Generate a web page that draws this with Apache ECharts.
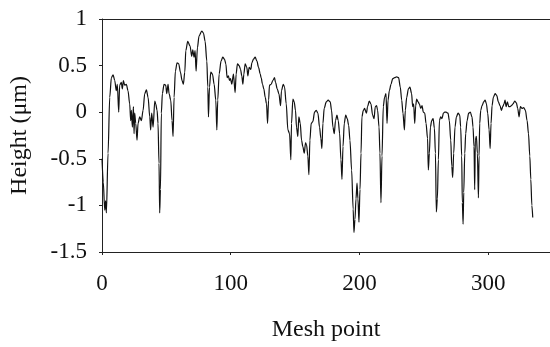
<!DOCTYPE html>
<html>
<head>
<meta charset="utf-8">
<script src="https://cdn.jsdelivr.net/npm/echarts@6/dist/echarts.min.js"></script>
<style>
  html, body { margin: 0; padding: 0; background: #fff; }
  #chart { width: 550px; height: 347px; }
</style>
</head>
<body>
<div id="chart"></div>
<script>
// Surface profile sampled along the mesh
const meshPoint = [
  0, 1.0, 2.1, 2.8, 3.4, 4.7, 6.0, 7.3, 8.6, 9.9, 11.1, 11.9, 13.0, 13.7, 15.0, 15.8, 16.6, 17.6, 18.9, 20.2,
  21.5, 22.3, 22.8, 23.6, 24.4, 24.9, 25.4, 26.2, 27.2, 28.0, 29.3, 30.6, 31.9, 33.2, 34.5, 35.8, 37.1, 37.8, 38.6, 39.7,
  41.0, 41.7, 42.8, 43.5, 44.3, 44.8, 45.4, 46.1, 46.9, 48.2, 49.5, 50.3, 51.3, 52.1, 53.4, 54.4, 55.2, 56.0, 57.0, 58.3,
  59.6, 60.9, 62.2, 63.2, 64.3, 65.1, 66.6, 68.4, 69.7, 70.5, 71.5, 72.3, 73.1, 74.1, 75.4, 77.5, 78.8, 80.1, 81.4, 82.2,
  82.7, 83.5, 84.5, 85.8, 87.1, 88.4, 89.2, 89.9, 91.0, 92.5, 93.8, 95.1, 96.2, 97.2, 98.2, 99.0, 99.8, 100.8, 102.1, 103.4,
  104.2, 105.2, 106.5, 107.6, 108.6, 109.4, 110.2, 111.2, 112.5, 113.3, 114.3, 115.6, 116.4, 117.7, 119.0, 120.3, 121.6, 122.9, 123.6, 124.7,
  125.7, 126.8, 127.8, 128.6, 129.4, 130.1, 131.4, 132.7, 134.0, 134.8, 136.1, 137.4, 138.7, 139.4, 140.8, 141.8, 143.1, 144.4, 145.7, 146.7,
  147.2, 148.3, 149.3, 150.3, 151.1, 152.1, 152.9, 154.0, 155.0, 156.0, 157.1, 158.1, 158.9, 159.9, 160.7, 161.5, 162.5, 163.8, 165.1, 166.4,
  167.7, 169.0, 170.0, 170.8, 171.6, 172.6, 174.2, 175.7, 177.3, 178.3, 179.4, 180.4, 181.4, 182.5, 183.5, 184.6, 185.6, 186.4, 187.2, 188.2,
  189.3, 190.5, 191.6, 192.6, 193.9, 195.1, 195.7, 196.5, 197.3, 198.1, 198.8, 199.6, 200.4, 201.2, 201.9, 203.0, 204.0, 205.4, 206.3, 207.6,
  208.9, 210.2, 211.3, 212.3, 213.3, 214.1, 215.2, 215.9, 216.7, 217.5, 218.5, 219.5, 220.6, 221.4, 222.2, 223.2, 224.5, 225.8, 227.3, 228.9,
  230.4, 231.7, 232.8, 233.8, 234.9, 235.6, 236.7, 238.0, 239.2, 240.5, 241.3, 242.1, 242.9, 243.7, 244.4, 245.5, 246.5, 247.6, 248.6, 249.6,
  250.7, 251.7, 252.9, 253.5, 254.3, 255.1, 256.1, 257.2, 258.2, 259.0, 259.7, 260.5, 261.3, 262.1, 263.1, 264.1, 265.2, 266.2, 267.3, 268.8,
  269.8, 270.9, 271.7, 272.4, 273.2, 274.2, 275.3, 276.6, 277.9, 278.6, 279.4, 279.9, 280.5, 281.0, 281.8, 282.5, 283.6, 284.8, 286.1, 287.4,
  288.2, 289.0, 289.5, 290.0, 290.8, 291.6, 292.4, 292.9, 293.4, 294.2, 295.2, 296.5, 297.6, 298.6, 299.6, 300.7, 301.5, 302.2, 303.0, 304.0,
  305.4, 306.6, 307.9, 309.2, 310.2, 311.3, 312.3, 313.1, 313.9, 314.9, 316.0, 317.0, 318.0, 319.3, 320.6, 321.9, 322.9, 324.0, 325.0, 326.3,
  327.6, 328.9, 330.2, 331.3, 332.3, 333.1, 333.9, 334.6
];

const heightUm = [
  -0.50, -0.75, -1.05, -0.95, -1.08, -0.44, 0.16, 0.37, 0.40, 0.34, 0.23, 0.30, 0.00, 0.29, 0.32, 0.25, 0.34, 0.29, 0.30, 0.23,
  0.09, -0.09, 0.02, -0.16, 0.06, -0.23, -0.01, -0.12, -0.30, -0.12, -0.05, -0.09, 0.02, 0.20, 0.24, 0.16, -0.05, -0.19, -0.01, -0.16,
  0.12, 0.09, 0.02, -0.12, -0.55, -1.08, -0.83, -0.01, 0.20, 0.30, 0.29, 0.20, 0.30, 0.20, 0.13, -0.09, -0.26, 0.16, 0.44, 0.53,
  0.52, 0.43, 0.34, 0.30, 0.43, 0.66, 0.76, 0.71, 0.60, 0.67, 0.59, 0.66, 0.44, 0.69, 0.82, 0.87, 0.85, 0.76, 0.55, 0.27,
  -0.05, 0.27, 0.43, 0.41, 0.30, 0.13, -0.19, 0.13, 0.41, 0.55, 0.59, 0.57, 0.52, 0.37, 0.39, 0.34, 0.36, 0.30, 0.41, 0.21,
  0.41, 0.52, 0.50, 0.46, 0.39, 0.30, 0.41, 0.52, 0.48, 0.39, 0.48, 0.46, 0.53, 0.57, 0.59, 0.55, 0.48, 0.41, 0.37, 0.30,
  0.25, 0.16, 0.09, -0.12, 0.13, 0.29, 0.30, 0.34, 0.37, 0.32, 0.25, 0.20, 0.07, 0.23, 0.30, 0.27, 0.09, -0.19, -0.23, -0.51,
  -0.12, 0.14, 0.11, 0.02, -0.16, -0.26, -0.05, -0.12, -0.30, -0.37, -0.44, -0.33, -0.35, -0.47, -0.67, -0.30, -0.12, -0.10, 0.00, 0.02,
  -0.01, -0.16, -0.28, -0.39, -0.12, 0.04, 0.11, 0.13, 0.11, 0.02, -0.16, -0.23, -0.09, -0.03, -0.09, -0.23, -0.51, -0.72, -0.37, -0.12,
  -0.03, -0.07, -0.14, -0.30, -0.62, -1.04, -1.29, -1.15, -0.93, -0.76, -0.93, -1.18, -0.83, -0.44, -0.05, 0.02, 0.04, -0.01, 0.06, 0.12,
  0.09, -0.03, -0.07, 0.06, 0.07, 0.02, -0.16, -0.44, -0.97, -0.47, 0.06, 0.16, 0.20, -0.12, 0.13, 0.23, 0.30, 0.36, 0.37, 0.38,
  0.37, 0.27, 0.13, -0.01, -0.19, 0.02, 0.16, 0.25, 0.27, 0.20, 0.06, 0.09, -0.12, 0.07, 0.14, 0.11, 0.09, 0.04, 0.07, 0.00,
  -0.01, -0.12, -0.28, -0.62, -0.44, -0.16, -0.09, -0.07, -0.17, -0.44, -1.07, -0.93, -0.51, -0.09, -0.05, -0.07, -0.01, 0.00, 0.00, -0.01,
  -0.09, -0.30, -0.58, -0.70, -0.44, -0.16, -0.05, -0.01, -0.03, -0.16, -0.47, -0.97, -1.20, -0.86, -0.44, -0.23, -0.09, -0.01, 0.00, -0.05,
  -0.16, -0.37, -0.83, -0.30, -0.26, -0.44, -0.92, -0.47, -0.12, 0.02, 0.07, 0.11, 0.13, 0.09, -0.01, -0.19, -0.39, -0.12, 0.07, 0.16,
  0.20, 0.18, 0.11, 0.07, 0.02, 0.06, 0.09, 0.13, 0.06, 0.11, 0.06, 0.06, 0.07, 0.09, 0.12, 0.10, 0.04, -0.05, 0.06, 0.04,
  0.05, 0.02, -0.09, -0.23, -0.47, -0.72, -1.00, -1.13
];

const xTicks = [0, 100, 200, 300];
const yTicks = [-1.5, -1, -0.5, 0, 0.5, 1];

const FONT = 'Liberation Serif';
const INK = '#111';
const X_MAX = 348;

const profile = meshPoint.map((m, i) => [m, heightUm[i]]);

const chart = echarts.init(document.getElementById('chart'), null, { renderer: 'canvas' });

chart.setOption({
  animation: false,
  backgroundColor: '#fff',
  grid: { left: 102, right: 0, top: 19, bottom: 92, containLabel: false },
  xAxis: [
    {
      type: 'value',
      min: xTicks[0],
      max: X_MAX,
      interval: xTicks[1] - xTicks[0],
      name: 'Mesh point',
      nameLocation: 'middle',
      nameGap: 66,
      nameTextStyle: { fontFamily: FONT, fontSize: 24, color: INK },
      axisLine: { show: true, onZero: false, lineStyle: { color: '#222', width: 1 } },
      axisTick: { show: true, inside: false, length: 3, lineStyle: { color: '#222' } },
      axisLabel: {
        fontFamily: FONT, fontSize: 23, color: INK, margin: 20,
        showMaxLabel: false,
        formatter: v => (xTicks.indexOf(v) >= 0 ? String(v) : '')
      },
      splitLine: { show: false }
    },
    {
      type: 'value',
      position: 'top',
      min: xTicks[0],
      max: X_MAX,
      axisLine: { show: true, onZero: false, lineStyle: { color: '#222', width: 1 } },
      axisTick: { show: false },
      axisLabel: { show: false },
      splitLine: { show: false }
    }
  ],
  yAxis: {
    type: 'value',
    min: yTicks[0],
    max: yTicks[yTicks.length - 1],
    interval: 0.5,
    name: 'Height (μm)',
    nameLocation: 'middle',
    nameGap: 70,
    nameRotate: 90,
    nameTextStyle: { fontFamily: FONT, fontSize: 24, color: INK },
    axisLine: { show: true, onZero: false, lineStyle: { color: '#222', width: 1 } },
    axisTick: { show: true, inside: false, length: 3, lineStyle: { color: '#222' } },
    axisLabel: { fontFamily: FONT, fontSize: 23, color: INK, margin: 15 },
    splitLine: { show: false }
  },
  series: [
    {
      type: 'line',
      xAxisIndex: 0,
      data: profile,
      showSymbol: false,
      smooth: 0.3,
      smoothMonotone: 'x',
      lineStyle: { color: INK, width: 1.2 }
    }
  ]
});
</script>
</body>
</html>
